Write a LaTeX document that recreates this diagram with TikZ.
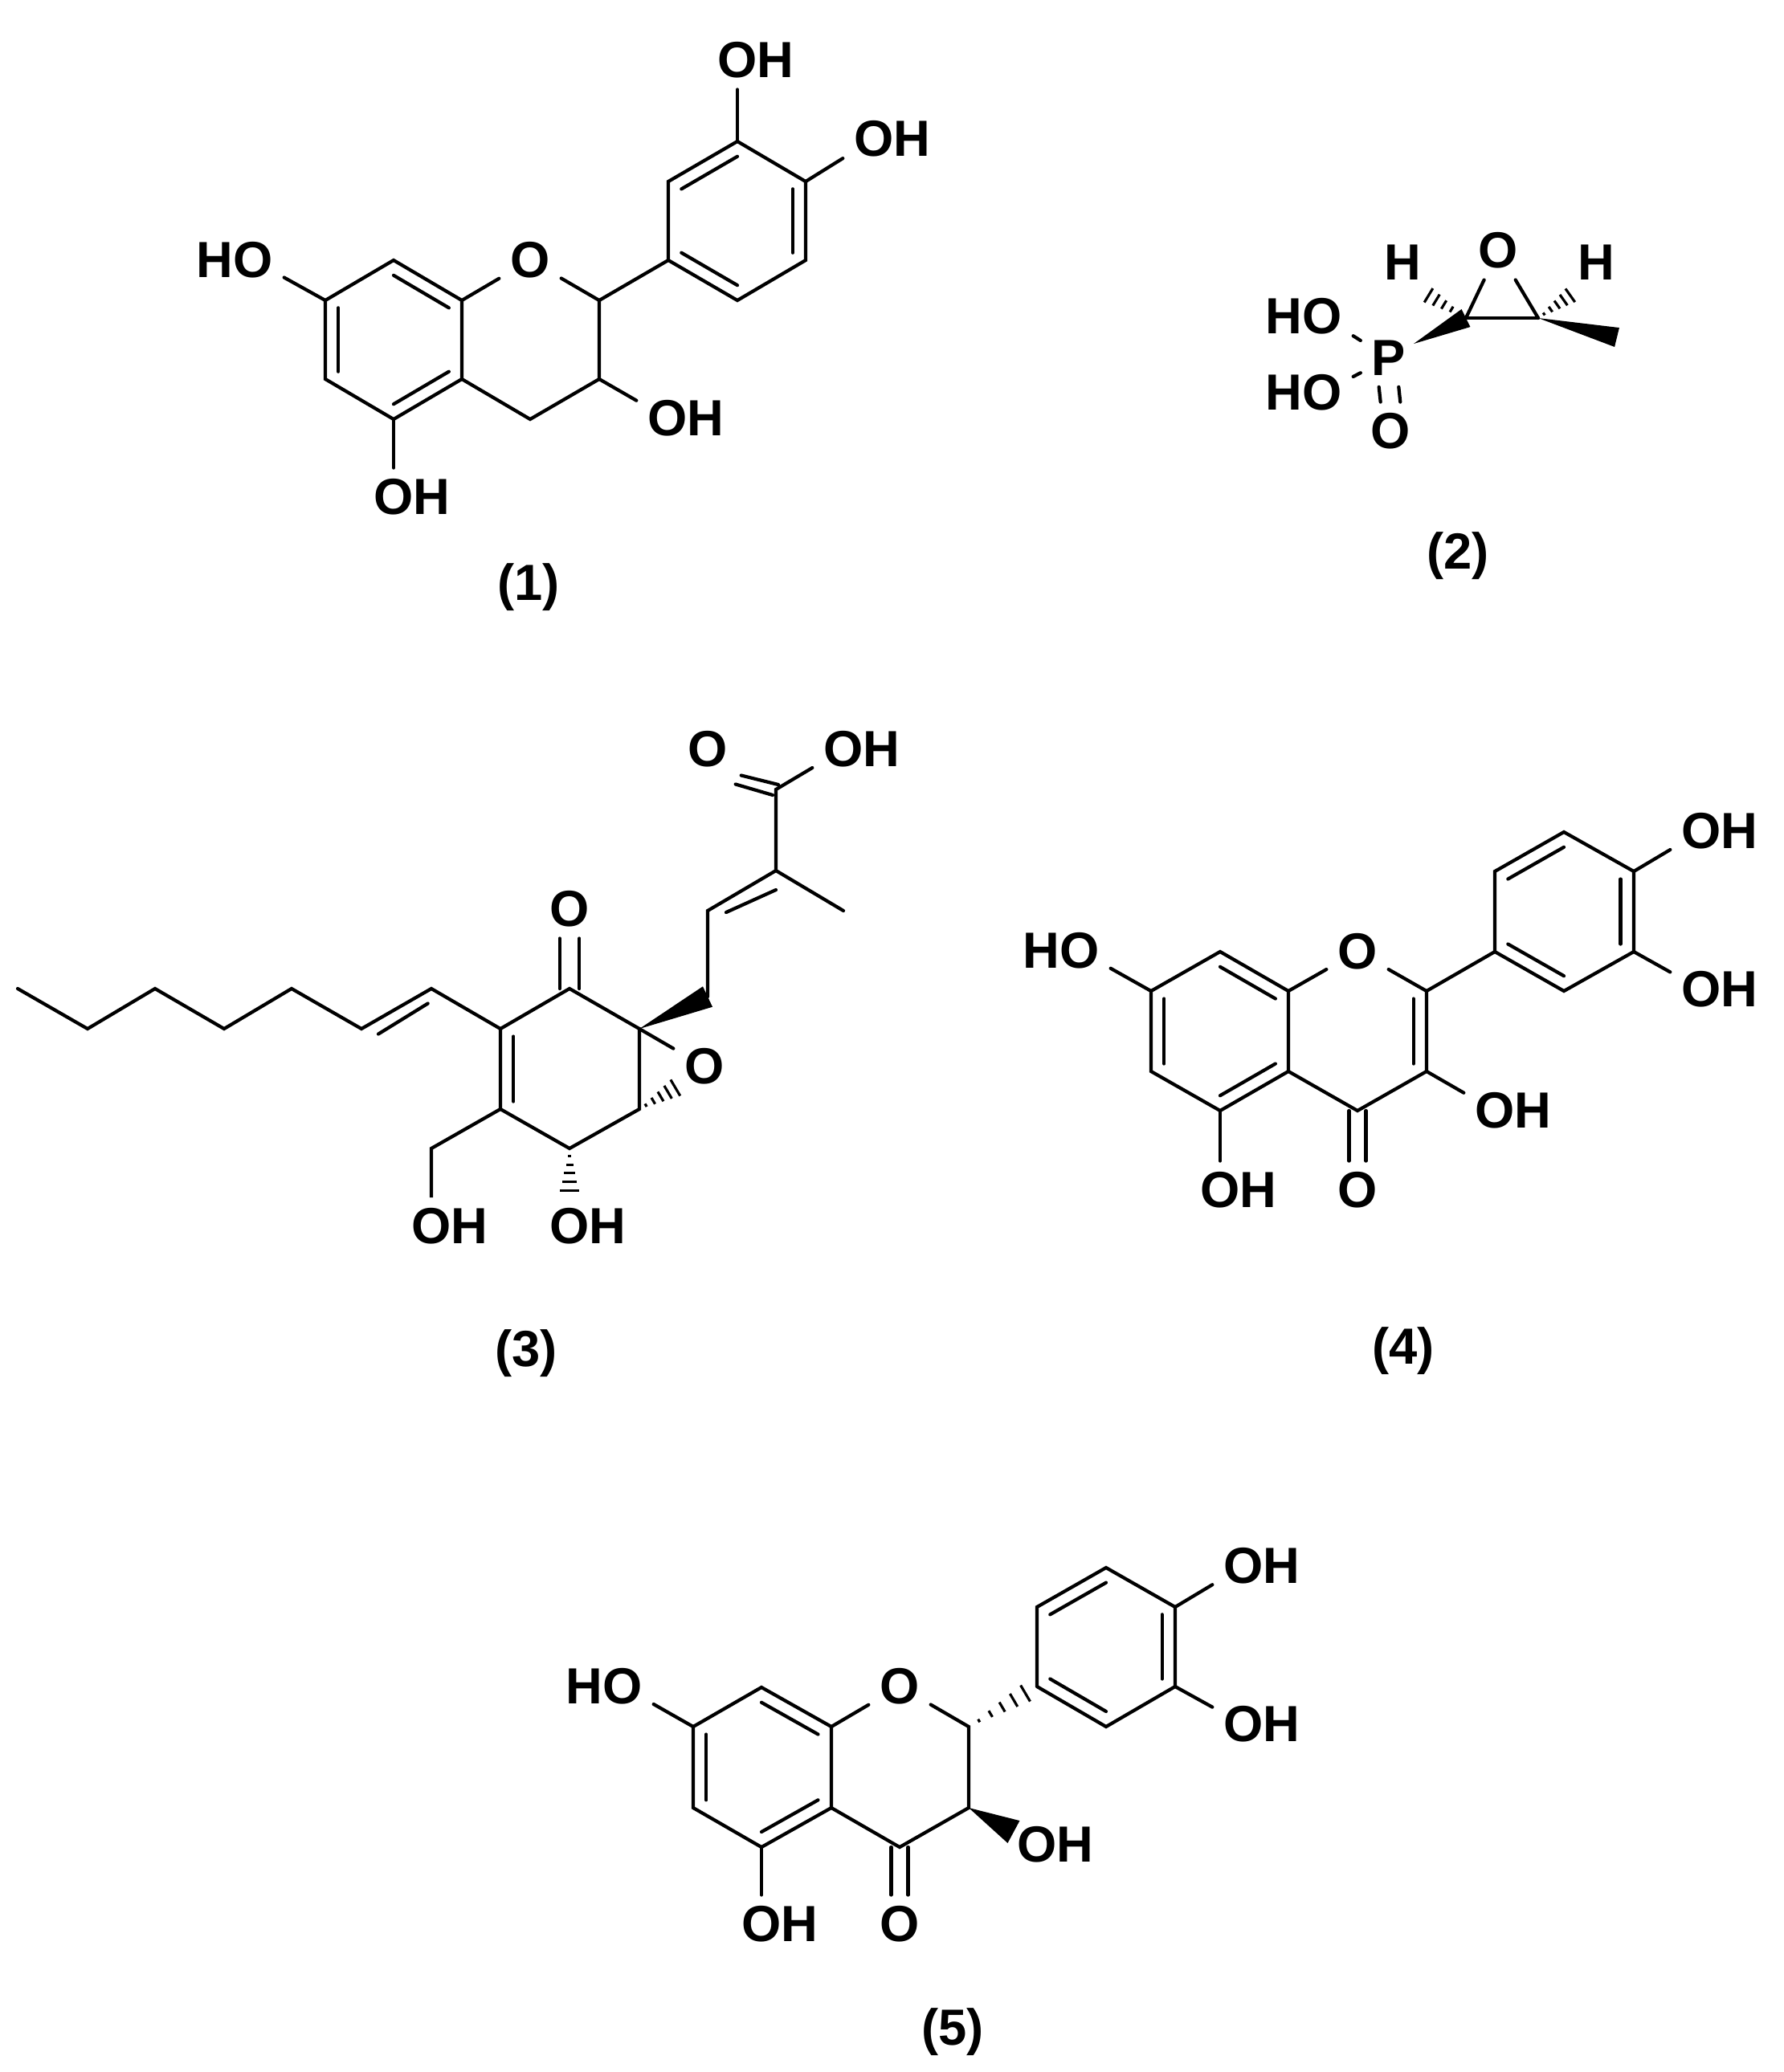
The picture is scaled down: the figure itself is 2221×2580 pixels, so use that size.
\documentclass[tikz,border=0pt]{standalone}
\usepackage{fontspec}
\setmainfont{Liberation Sans}
\usetikzlibrary{calc}
\tikzset{
  bond/.style={line width=1.2pt, line cap=round},
  atom/.style={inner sep=0pt, outer sep=4pt, font=\fontsize{18}{20}\selectfont\bfseries},
  hatom/.style={inner sep=0pt, outer sep=0pt, font=\fontsize{18}{20}\selectfont\bfseries},
  cpd/.style={inner sep=0pt, font=\fontsize{18}{20}\selectfont\bfseries}
}
\newcommand\innerdb[3]{\draw[bond] ($(#1)!0.19!(#3)$) -- ($(#2)!0.19!(#3)$);}
\newcommand\wedgeb[3]{\fill (#1) -- ($(#2)!#3!90:(#1)$) -- ($(#2)!#3!-90:(#1)$) -- cycle;}
\newcommand\hashb[3]{\foreach \t in {0.15,0.32,0.49,0.66,0.83,1.0}{%
  \coordinate (hc) at ($(#1)!\t!(#2)$);
  \draw[line width=0.9pt] ($(hc)!{\t*#3}!90:(#2)$) -- ($(hc)!{\t*#3}!-90:(#2)$);}}
\newcommand\OH[3]{\node[atom] (#1) at (#2,#3) {O};\node[hatom,anchor=base west] at ([xshift=-4pt]#1.base east) {H};}
\newcommand\HO[3]{\node[atom] (#1) at (#2,#3) {O};\node[hatom,anchor=base east] at ([xshift=4pt]#1.base west) {H};}
\begin{document}
\begin{tikzpicture}[x=0.01cm,y=-0.01cm]
\useasboundingbox (0,0) rectangle (2221,2580);
% ================= (1)
\coordinate (a8a) at (575,374); \node[atom] (aO) at (660,324) {O};
\coordinate (a2) at (746,374); \coordinate (a3) at (746,472); \coordinate (a4) at (660,522);
\coordinate (a4a) at (575,472); \coordinate (a5) at (490,522); \coordinate (a6) at (405,472);
\coordinate (a7) at (405,374); \coordinate (a8) at (490,324);
\coordinate (aA) at (490,423); \coordinate (aB) at (918,275);
\coordinate (ab1) at (832,324); \coordinate (ab2) at (832,226); \coordinate (ab3) at (918,176);
\coordinate (ab4) at (1003,226); \coordinate (ab5) at (1003,324); \coordinate (ab6) at (918,374);
\HO{aO7}{315}{324} \OH{aO5}{490}{619} \OH{aO3}{831}{521} \OH{aO3p}{918}{75} \OH{aO4p}{1088}{173}
\draw[bond] (a8a) -- (aO) -- (a2) -- (a3) -- (a4) -- (a4a) -- (a8a) -- (a8) -- (a7) -- (a6) -- (a5) -- (a4a);
\draw[bond] (a2) -- (ab1) -- (ab2) -- (ab3) -- (ab4) -- (ab5) -- (ab6) -- (ab1);
\innerdb{a8}{a8a}{aA} \innerdb{a7}{a6}{aA} \innerdb{a4a}{a5}{aA}
\innerdb{ab2}{ab3}{aB} \innerdb{ab4}{ab5}{aB} \innerdb{ab6}{ab1}{aB}
\draw[bond] (a7) -- (aO7); \draw[bond] (a5) -- (aO5); \draw[bond] (a3) -- (aO3);
\draw[bond] (ab3) -- (aO3p); \draw[bond] (ab4) -- (aO4p);
\node[cpd] (l1) at (658,731) {(1)};
% ================= (2)
\node[atom] (P) at (1729,446) {P};
\HO{pO1}{1646}{394} \HO{pO2}{1646}{489}
\node[atom] (pO3) at (1731,537) {O};
\coordinate (e1) at (1825,396); \coordinate (e2) at (1915,396);
\node[atom] (eO) at (1865,312) {O};
\node[hatom] (eH1) at (1746,327) {H}; \node[hatom] (eH2) at (1987,327) {H};
\coordinate (pme) at (2013,420); \coordinate (pw) at (1760,428);
\coordinate (h1e) at (1769,362); \coordinate (h2e) at (1963,362);
\draw[bond] (P) -- (pO1); \draw[bond] (P) -- (pO2);
\draw[bond] ([xshift=-3.5pt]P.south) -- ([xshift=-3.5pt]pO3.north);
\draw[bond] ([xshift=3.5pt]P.south) -- ([xshift=3.5pt]pO3.north);
\draw[bond] (e1) -- (e2); \draw[bond] (e1) -- (eO) -- (e2);
\wedgeb{pw}{e1}{3.5pt} \wedgeb{e2}{pme}{3.5pt}
\hashb{e1}{h1e}{3.5pt} \hashb{e2}{h2e}{3.5pt}
\node[cpd] (l2) at (1815,692) {(2)};
% ================= (3)
\coordinate (k1) at (22,1231); \coordinate (k2) at (109,1281); \coordinate (k3) at (193,1231);
\coordinate (k4) at (279,1281); \coordinate (k5) at (363,1231); \coordinate (k6) at (450,1281);
\coordinate (k7) at (537,1231); \coordinate (ca) at (623,1281); \coordinate (cb) at (709,1231);
\node[atom] (kO) at (709,1132) {O};
\coordinate (cc) at (796,1281); \coordinate (cd) at (796,1381); \coordinate (ce) at (709,1430);
\coordinate (cf) at (623,1381); \coordinate (cR) at (709,1331);
\node[atom] (eO3) at (877,1328) {O};
\coordinate (cg) at (537,1430); \coordinate (cg2) at (537,1491);
\OH{kO1}{537}{1527} \OH{kO2}{709}{1527}
\coordinate (s1) at (881,1241); \coordinate (s2) at (881,1134); \coordinate (s3) at (966,1084);
\coordinate (sme) at (1050,1134); \coordinate (s4) at (966,983);
\node[atom] (sO) at (881,933) {O}; \OH{sOH}{1050}{933}
\coordinate (hOe) at (850,1349); \coordinate (hOh) at (709,1493);
\draw[bond] (k1) -- (k2) -- (k3) -- (k4) -- (k5) -- (k6) -- (k7) -- (ca);
\draw[bond] ($(k6)!0.15!(k7)+(8,14)$) -- ($(k7)!0.05!(k6)+(0,16)$);
\draw[bond] (ca) -- (cb) -- (cc) -- (cd) -- (ce) -- (cf) -- (ca);
\innerdb{ca}{cf}{cR}
\draw[bond] ([xshift=-3.5pt]cb) -- ([xshift=-3.5pt]kO.south);
\draw[bond] ([xshift=3.5pt]cb) -- ([xshift=3.5pt]kO.south);
\draw[bond] (cc) -- (eO3);
\hashb{cd}{hOe}{4pt}
\draw[bond] (cf) -- (cg) -- (cg2) -- (kO1);
\hashb{ce}{hOh}{4pt}
\wedgeb{cc}{s1}{4pt}
\draw[bond] (s1) -- (s2) -- (s3) -- (sme);
\draw[bond] ($(s2)!0.2!(s3)+(6,12)$) -- ($(s3)+(0,24)$);
\draw[bond] (s3) -- (s4) -- (sOH);
\draw[bond] ($(s4)+(3,-6)$) -- ($(sO.south east)+(3,-4)$);
\draw[bond] ($(s4)+(-4,7)$) -- ($(sO.south east)+(-4,7)$);
\node[cpd] (l3) at (655,1685) {(3)};
% ================= (4)
\coordinate (q8) at (1519,1185); \coordinate (q8a) at (1604,1234); \node[atom] (qO) at (1690,1185) {O};
\coordinate (q2) at (1776,1234); \coordinate (q3) at (1776,1334); \coordinate (q4) at (1690,1383);
\coordinate (q4a) at (1604,1334); \coordinate (q5) at (1519,1383); \coordinate (q6) at (1433,1334);
\coordinate (q7) at (1433,1234); \coordinate (qA) at (1519,1284); \coordinate (qC) at (1690,1284);
\coordinate (qb1) at (1861,1185); \coordinate (qb2) at (1861,1085); \coordinate (qb3) at (1947,1036);
\coordinate (qb4) at (2034,1085); \coordinate (qb5) at (2034,1185); \coordinate (qb6) at (1947,1234);
\coordinate (qB) at (1947,1135);
\HO{qO7}{1344}{1184} \OH{qO5}{1519}{1482} \node[atom] (qO4) at (1690,1482) {O};
\OH{qO3}{1861}{1383} \OH{qO4p}{2118}{1035} \OH{qO3p}{2118}{1232}
\draw[bond] (q8a) -- (qO) -- (q2) -- (q3) -- (q4) -- (q4a) -- (q8a) -- (q8) -- (q7) -- (q6) -- (q5) -- (q4a);
\draw[bond] (q2) -- (qb1) -- (qb2) -- (qb3) -- (qb4) -- (qb5) -- (qb6) -- (qb1);
\innerdb{q8}{q8a}{qA} \innerdb{q7}{q6}{qA} \innerdb{q4a}{q5}{qA} \innerdb{q2}{q3}{qC}
\innerdb{qb2}{qb3}{qB} \innerdb{qb4}{qb5}{qB} \innerdb{qb6}{qb1}{qB}
\draw[bond] ([xshift=-3pt]q4) -- ([xshift=-3pt]qO4.north); \draw[bond] ([xshift=3pt]q4) -- ([xshift=3pt]qO4.north);
\draw[bond] (q7) -- (qO7); \draw[bond] (q5) -- (qO5); \draw[bond] (q3) -- (qO3);
\draw[bond] (qb4) -- (qO4p); \draw[bond] (qb5) -- (qO3p);
\node[cpd] (l4) at (1747,1682) {(4)};
% ================= (5)
\coordinate (t8) at (948,2101); \coordinate (t8a) at (1035,2150); \node[atom] (tO) at (1120,2100) {O};
\coordinate (t2) at (1206,2150); \coordinate (t3) at (1206,2251); \coordinate (t4) at (1120,2300);
\coordinate (t4a) at (1035,2251); \coordinate (t5) at (948,2300); \coordinate (t6) at (863,2251);
\coordinate (t7) at (863,2150); \coordinate (tA) at (948,2200);
\coordinate (tb1) at (1291,2100); \coordinate (tb2) at (1291,2001); \coordinate (tb3) at (1377,1952);
\coordinate (tb4) at (1463,2001); \coordinate (tb5) at (1463,2100); \coordinate (tb6) at (1377,2150);
\coordinate (tB) at (1377,2050); \coordinate (tw) at (1262,2281);
\HO{tO7}{775}{2100} \OH{tO5}{948}{2396} \node[atom] (tO4) at (1120,2396) {O};
\OH{tO3}{1291}{2297} \OH{tO4p}{1548}{1950} \OH{tO3p}{1548}{2147}
\draw[bond] (t8a) -- (tO) -- (t2) -- (t3) -- (t4) -- (t4a) -- (t8a) -- (t8) -- (t7) -- (t6) -- (t5) -- (t4a);
\draw[bond] (tb1) -- (tb2) -- (tb3) -- (tb4) -- (tb5) -- (tb6) -- (tb1);
\innerdb{t8}{t8a}{tA} \innerdb{t7}{t6}{tA} \innerdb{t4a}{t5}{tA}
\innerdb{tb2}{tb3}{tB} \innerdb{tb4}{tb5}{tB} \innerdb{tb6}{tb1}{tB}
\hashb{t2}{tb1}{4pt}
\wedgeb{t3}{tw}{4.5pt}
\draw[bond] ([xshift=-3pt]t4) -- ([xshift=-3pt]tO4.north); \draw[bond] ([xshift=3pt]t4) -- ([xshift=3pt]tO4.north);
\draw[bond] (t7) -- (tO7); \draw[bond] (t5) -- (tO5);
\draw[bond] (tb4) -- (tO4p); \draw[bond] (tb5) -- (tO3p);
\node[cpd] (l5) at (1186,2530) {(5)};
\end{tikzpicture}
\end{document}
